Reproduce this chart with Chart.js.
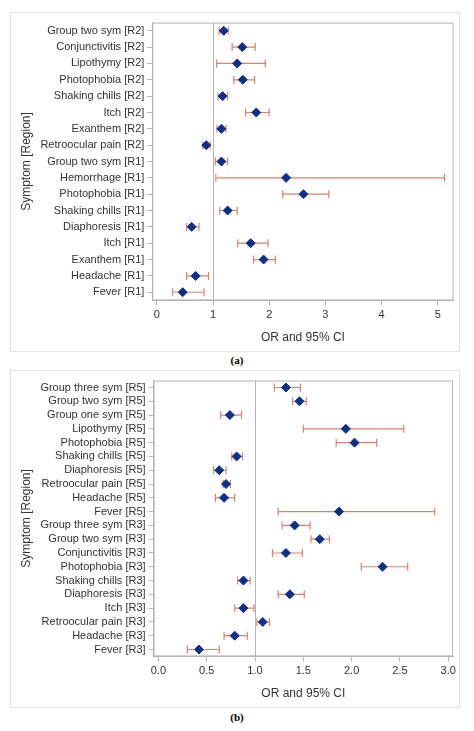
<!DOCTYPE html>
<html><head><meta charset="utf-8">
<script src="https://cdn.jsdelivr.net/npm/chart.js@4"></script>
<style>
body{margin:0;background:#fff;width:474px;height:731px;position:relative;font-family:"Liberation Serif",serif;}
.panel{position:absolute;left:10px;width:450px;border:1px solid #e2e2e2;box-sizing:border-box;}
.cap{position:absolute;width:474px;text-align:center;font-size:11px;font-weight:bold;}
</style></head><body>
<div class="panel" style="top:12px;height:340px"><canvas id="ca"></canvas></div>
<div class="cap" style="top:354px">(a)</div>
<div class="panel" style="top:370px;height:338px"><canvas id="cb"></canvas></div>
<div class="cap" style="top:711px">(b)</div>
<script>
const labelsA=["Group two sym [R2]","Conjunctivitis [R2]","Lipothymy [R2]","Photophobia [R2]","Shaking chills [R2]","Itch [R2]","Exanthem [R2]","Retroocular pain [R2]","Group two sym [R1]","Hemorrhage [R1]","Photophobia [R1]","Shaking chills [R1]","Diaphoresis [R1]","Itch [R1]","Exanthem [R1]","Headache [R1]","Fever [R1]"];
const orA=[1.19,1.52,1.43,1.53,1.17,1.77,1.15,0.88,1.15,2.30,2.61,1.26,0.62,1.67,1.90,0.69,0.46];
const loA=[1.11,1.34,1.065,1.37,1.09,1.58,1.07,0.82,1.04,1.05,2.24,1.12,0.53,1.44,1.72,0.53,0.28];
const hiA=[1.27,1.75,1.93,1.74,1.26,2.00,1.23,0.95,1.26,5.12,3.06,1.43,0.75,1.98,2.11,0.92,0.84];
const ticksA=[0,1,2,3,4,5];
const labelsB=["Group three sym [R5]","Group two sym [R5]","Group one sym [R5]","Lipothymy [R5]","Photophobia [R5]","Shaking chills [R5]","Diaphoresis [R5]","Retroocular pain [R5]","Headache [R5]","Fever [R5]","Group three sym [R3]","Group two sym [R3]","Conjunctivitis [R3]","Photophobia [R3]","Shaking chills [R3]","Diaphoresis [R3]","Itch [R3]","Retroocular pain [R3]","Headache [R3]","Fever [R3]"];
const orB=[1.32,1.46,0.74,1.94,2.03,0.81,0.63,0.70,0.68,1.87,1.41,1.67,1.32,2.32,0.88,1.36,0.88,1.08,0.79,0.42];
const loB=[1.20,1.39,0.645,1.50,1.84,0.76,0.57,0.67,0.59,1.24,1.28,1.58,1.18,2.10,0.82,1.24,0.79,1.02,0.68,0.30];
const hiB=[1.47,1.53,0.86,2.54,2.26,0.87,0.70,0.745,0.79,2.86,1.57,1.77,1.49,2.58,0.95,1.51,0.99,1.15,0.92,0.63];
const ticksB=[0,0.5,1.0,1.5,2.0,2.5,3.0];
const FONT="'Liberation Sans Narrow','Liberation Sans',sans-serif";
function make(id,labels,or,lo,hi,ticks,min,max,dec){
  const errPlugin={id:'err',
    beforeDatasetsDraw(c){
      const x=c.scales.x,y=c.scales.y,ctx=c.ctx,a=c.chartArea;
      ctx.save();
      ctx.strokeStyle='#b5b5b5';ctx.lineWidth=1;
      const xr=Math.round(x.getPixelForValue(1))+0.5;
      ctx.beginPath();ctx.moveTo(xr,a.top);ctx.lineTo(xr,a.bottom);ctx.stroke();
      ctx.strokeStyle='#d9826a';ctx.lineWidth=1.2;
      labels.forEach((l,i)=>{
        const py=y.getPixelForValue(i),x1=x.getPixelForValue(lo[i]),x2=x.getPixelForValue(hi[i]);
        ctx.beginPath();ctx.moveTo(x1,py);ctx.lineTo(x2,py);
        ctx.moveTo(x1,py-4);ctx.lineTo(x1,py+4);ctx.moveTo(x2,py-4);ctx.lineTo(x2,py+4);ctx.stroke();
      });
      ctx.strokeStyle='#b5b5b5';ctx.lineWidth=1;
      ctx.strokeRect(a.left+0.5,a.top+0.5,a.right-a.left-1,a.bottom-a.top-1);
      ctx.restore();
    }};
  new Chart(document.getElementById(id),{
    type:'scatter',
    data:{labels:labels,datasets:[{data:or.map((v,i)=>({x:v,y:labels[i]})),pointStyle:'rectRot',pointRadius:4.5,pointHoverRadius:4.5,backgroundColor:'#0a2f8f',borderColor:'#0a2f8f'}]},
    options:{responsive:false,animation:false,devicePixelRatio:1,
      layout:{padding:{top:2,right:2,left:4,bottom:4}},
      plugins:{legend:{display:false},tooltip:{enabled:false}},
      scales:{
        x:{type:'linear',min:min,max:max,
          afterBuildTicks:ax=>{ax.ticks=ticks.map(v=>({value:v}));},
          ticks:{color:'#333',font:{family:FONT,size:11},callback:v=>v.toFixed(dec),autoSkip:false,maxRotation:0},
          grid:{drawOnChartArea:false,drawTicks:true,tickLength:5,color:'#b5b5b5'},border:{color:'#b5b5b5'},
          title:{display:true,text:'OR and 95% CI',color:'#333',font:{family:FONT,size:12},padding:{top:6,bottom:2}}},
        y:{type:'category',labels:labels,offset:true,
          ticks:{color:'#333',font:{family:FONT,size:11},autoSkip:false,padding:3},
          grid:{drawOnChartArea:false,drawTicks:true,tickLength:5,color:'#b5b5b5'},border:{color:'#b5b5b5'},
          title:{display:true,text:'Symptom [Region]',color:'#333',font:{family:FONT,size:12}}}
      }},
    plugins:[errPlugin]});
}
const ca=document.getElementById('ca');ca.width=448;ca.height=338;
const cb=document.getElementById('cb');cb.width=448;cb.height=336;
make('ca',labelsA,orA,loA,hiA,ticksA,-0.08,5.28,0);
make('cb',labelsB,orB,loB,hiB,ticksB,-0.05,3.05,1);
</script></body></html>
